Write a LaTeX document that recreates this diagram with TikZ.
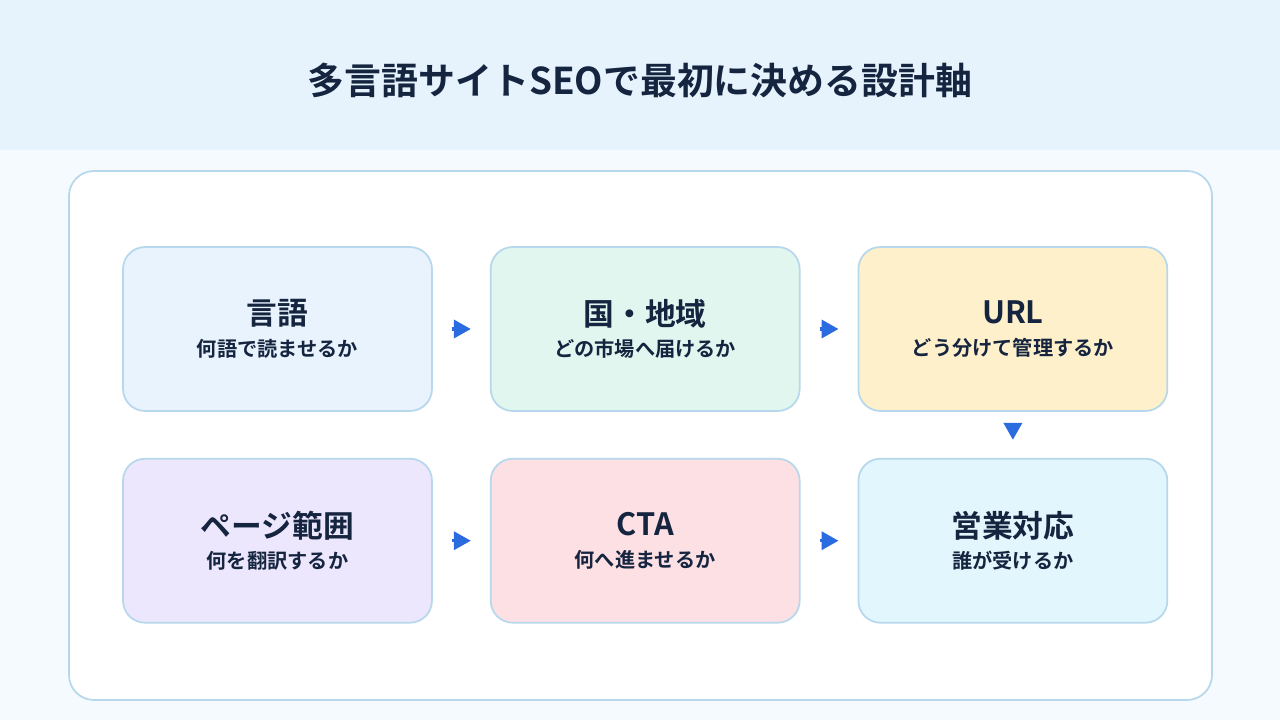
\documentclass[tikz,border=0pt]{standalone}
\usepackage{fontspec}
\setmainfont{Noto Sans CJK JP}[BoldFont={Noto Sans CJK JP Bold}]
\usepackage{xcolor}
\usepackage{tikz}
\usetikzlibrary{arrows.meta,positioning}
\definecolor{headblue}{HTML}{E6F3FD}
\definecolor{pagebg}{HTML}{F5FAFE}
\definecolor{edgeblue}{HTML}{B7D8EC}
\definecolor{inkblue}{HTML}{15243F}
\definecolor{arrowblue}{HTML}{2B6BE0}
\definecolor{fillsky}{HTML}{E8F3FE}
\definecolor{fillmint}{HTML}{E0F6EF}
\definecolor{fillsand}{HTML}{FEF0CB}
\definecolor{filllilac}{HTML}{EDE7FD}
\definecolor{fillrose}{HTML}{FDE0E4}
\definecolor{fillaqua}{HTML}{E2F6FD}
\newcommand{\axislabel}[2]{{\fontsize{17.5}{21}\selectfont #1}\\[6pt]{\fontsize{11.5}{14}\selectfont #2}}

\begin{document}
\begin{tikzpicture}[x=0.02cm,y=-0.02cm,node distance=0.92cm and 1.14cm,
  axis/.style={draw=edgeblue,line width=1pt,rounded corners=0.44cm,minimum width=6.18cm,
    minimum height=3.28cm,align=center,text=inkblue,font=\bfseries,inner sep=0pt},
  flow/.style={-{Triangle[length=0.34cm,width=0.36cm]},line width=2pt,arrowblue}]
  \fill[pagebg] (0,0) rectangle (1280,720);
  \fill[headblue] (0,0) rectangle (1280,150);
  \useasboundingbox (0,0) rectangle (1280,720);
  \node[text=inkblue,font=\bfseries\fontsize{21}{25}\selectfont] (title) at (640,80)
    {多言語サイトSEOで最初に決める設計軸};
  \draw[edgeblue,line width=1pt,fill=white,rounded corners=0.5cm] (69,171) rectangle (1212,700);
  \node[axis,fill=fillsky] (lang) at (277.5,329) {\axislabel{言語}{何語で読ませるか}};
  \node[axis,fill=fillmint,right=of lang] (region) {\axislabel{国・地域}{どの市場へ届けるか}};
  \node[axis,fill=fillsand,right=of region] (url) {\axislabel{URL}{どう分けて管理するか}};
  \node[axis,fill=fillaqua,below=of url] (sales) {\axislabel{営業対応}{誰が受けるか}};
  \node[axis,fill=fillrose,left=of sales] (cta) {\axislabel{CTA}{何へ進ませるか}};
  \node[axis,fill=filllilac,left=of cta] (pages) {\axislabel{ページ範囲}{何を翻訳するか}};
  \draw[flow,shorten <=0.38cm,shorten >=0.38cm] (lang) -- (region);
  \draw[flow,shorten <=0.38cm,shorten >=0.38cm] (region) -- (url);
  \draw[flow,shorten <=0.26cm,shorten >=0.36cm] (url) -- (sales);
  \draw[flow,shorten <=0.38cm,shorten >=0.38cm] (pages) -- (cta);
  \draw[flow,shorten <=0.38cm,shorten >=0.38cm] (cta) -- (sales);
\end{tikzpicture}
\end{document}
